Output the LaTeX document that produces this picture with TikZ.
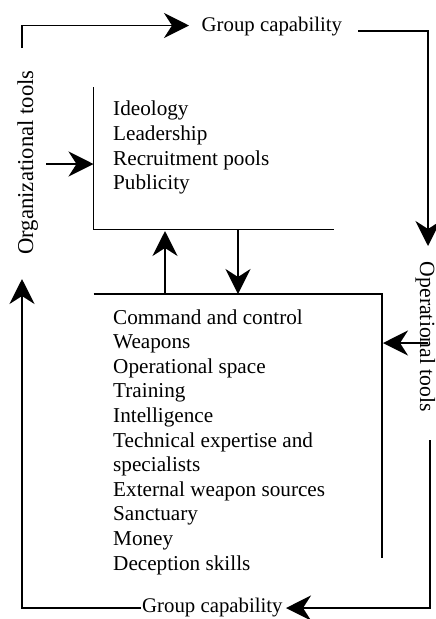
\documentclass[tikz,border=0pt]{standalone}
\usepackage{fontspec}
\setmainfont{Liberation Serif}
\usetikzlibrary{arrows.meta}
\begin{document}
\begin{tikzpicture}[x=1pt,y=-1pt,
  line/.style={line width=1.8pt},
  flow/.style={line, -{Stealth[length=25pt,width=25pt,inset=8pt]}},
  listtext/.style={anchor=base west, inner sep=0pt, font=\fontsize{21.2}{24.8}\selectfont},
  label/.style={inner sep=0pt, font=\fontsize{20.8}{24}\selectfont}]
\useasboundingbox (0,0) rectangle (436,619);

% rotated side labels
\node[label, rotate=90, anchor=base, font=\fontsize{22.7}{26}\selectfont] (orgtools) at (33,162.5) {Organizational tools};
\node[label, rotate=-90, anchor=base, font=\fontsize{21.7}{25}\selectfont] (optools) at (420,337) {Operational tools};

% group capability labels
\node[label, anchor=base west] (gctop) at (201.5,31.5) {Group capability};
\node[label, anchor=base west] (gcbot) at (142,612) {Group capability};

% organizational box
\coordinate (b1tl) at (93.5,87);
\coordinate (b1bl) at (93.5,229.5);
\coordinate (b1br) at (334,229.5);
\draw[line] (b1tl) -- (b1bl) -- (b1br);
\foreach \t [count=\i] in {Ideology, Leadership, Recruitment pools, Publicity}
  \node[listtext] (org\i) at (113,{115.5+24.8*(\i-1)}) {\t};

% operational box
\coordinate (b2tl) at (93.5,294);
\coordinate (b2tr) at (382,294);
\coordinate (b2br) at (382,558);
\draw[line] (b2tl) -- (b2tr) -- (b2br);
\foreach \t [count=\i] in {Command and control, Weapons, Operational space, Training,
  Intelligence, Technical expertise and, specialists, External weapon sources,
  Sanctuary, Money, Deception skills}
  \node[listtext] (op\i) at (113,{324+24.6*(\i-1)}) {\t};

% connector end points
\coordinate (orgstart) at (22,48);
\coordinate (gctopin) at (189,25.5);
\coordinate (gctopout) at (358,31);
\coordinate (opend) at (428,246);
\coordinate (opstart) at (430,440);
\coordinate (gcbotin) at (286,608);
\coordinate (gcbotout) at (141,608);
\coordinate (orgend) at (22,279);
\coordinate (orgin) at (46,164);
\coordinate (orgtip) at (93.5,164);
\coordinate (opin) at (428,343);
\coordinate (optip) at (383,343);
\coordinate (upstart) at (165,294);
\coordinate (uptip) at (165,231);
\coordinate (downstart) at (238,229.5);
\coordinate (downtip) at (238,294);

% connectors
\draw[flow] (orgstart) |- (gctopin);
\draw[flow] (gctopout) -| (opend);
\draw[flow] (opstart) |- (gcbotin);
\draw[flow] (gcbotout) -| (orgend);
\draw[flow] (orgin) -- (orgtip);
\draw[flow] (opin) -- (optip);
\draw[flow] (upstart) -- (uptip);
\draw[flow] (downstart) -- (downtip);
\end{tikzpicture}
\end{document}
